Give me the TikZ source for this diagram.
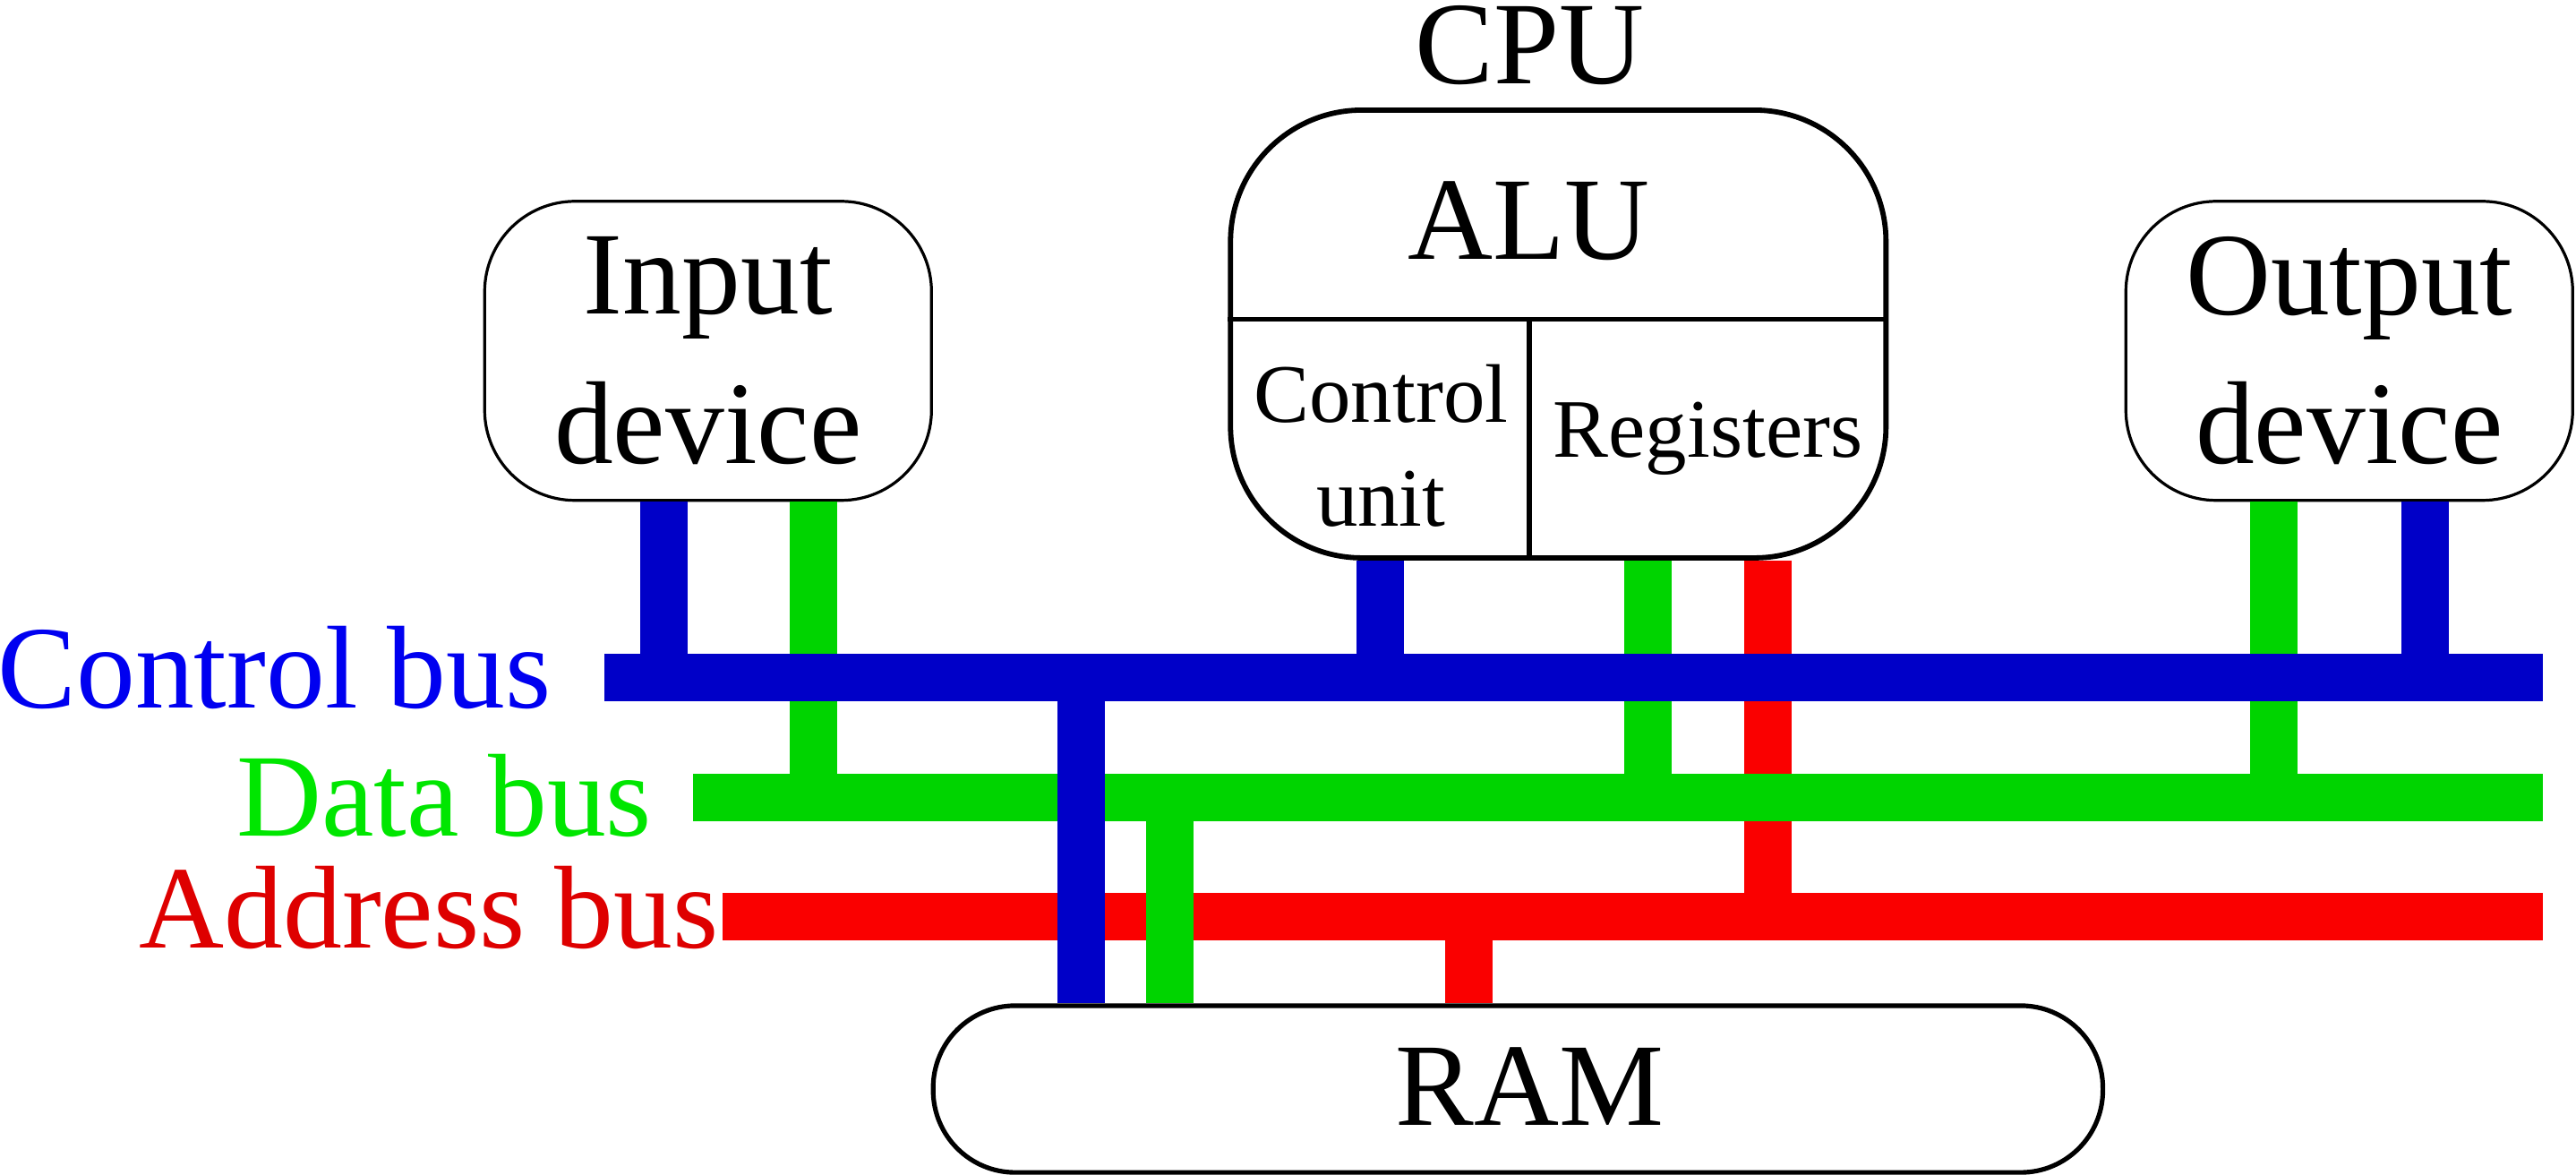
\documentclass[tikz,border=0pt]{standalone}
\usepackage{fontspec}
\setmainfont{Liberation Serif}
\usepackage{tikz}
\definecolor{ctrlblue}{RGB}{0,0,200}
\definecolor{ctrltxt}{RGB}{0,0,240}
\definecolor{datagreen}{RGB}{0,212,0}
\definecolor{datatxt}{RGB}{0,230,0}
\definecolor{addrred}{RGB}{250,0,0}
\definecolor{addrtxt}{RGB}{222,0,0}
\newcommand{\bigtext}{\fontsize{20.4pt}{25.8pt}\selectfont}
\newcommand{\smalltext}{\fontsize{14.4pt}{18pt}\selectfont}

\begin{document}
\begin{tikzpicture}[x=0.1mm, y=-0.1mm,
	box/.style={draw, line width=0.5pt, rounded corners=5.5mm, minimum width=27.2mm, minimum height=18.2mm, inner sep=0pt, align=center, font=\bigtext},
	lbl/.style={inner sep=0pt, font=\bigtext},
	bar/.style={line width=2.88mm},
	cbar/.style={bar, ctrlblue},
	dbar/.style={bar, datagreen},
	abar/.style={bar, addrred}]
	\useasboundingbox (0,0) rectangle (1568,715);
	%%% Boxes
	\node[box] (in) at (431,213.5) {Input\\device};
	\node[box] (out) at (1430,213.5) {Output\\device};
	\node[draw, line width=0.9pt, rounded corners=8mm, minimum width=39.9mm, minimum height=27.25mm] (cpu) at (948.5,203.25) {};
	\node[draw, line width=0.8pt, rounded corners=5mm, minimum width=71.2mm, minimum height=10.15mm] (ram) at (924,662.75) {};
	%%% CPU inside
	\coordinate (div) at (931,194.3);
	\draw[line width=0.9pt] (cpu.west |- div) -- (cpu.east |- div);
	\draw[line width=0.9pt] (div) -- (div |- cpu.south);
	\node[lbl, anchor=base] (cpulbl) at (931,51) {CPU};
	\node[lbl, anchor=base] (alu) at (930.5,157.8) {ALU};
	\node[inner sep=0pt, font=\smalltext, align=center] (cu) at (840.6,271.2) {Control\\unit};
	\node[inner sep=0pt, font=\smalltext, anchor=base] (reg) at (1039.6,278.2) {Registers};
	\node[lbl, anchor=base] (ramtxt) at (931,685) {RAM};
	%%% Buses
	\coordinate (cbusL) at (368,412.3);
	\coordinate (cbusR) at (1548,412.3);
	\coordinate (dbusL) at (422,485.3);
	\coordinate (dbusR) at (1548,485.3);
	\coordinate (abusL) at (440,557.7);
	\coordinate (abusR) at (1548,557.7);
	\node[lbl, anchor=base east, text=ctrltxt] (lctrl) at (336,431) {Control bus};
	\node[lbl, anchor=base east, text=datatxt] (ldata) at (397.5,509) {Data bus};
	\node[lbl, anchor=base east, text=addrtxt] (laddr) at (438,577) {Address bus};
	%%% Data and address lines
	\foreach \n/\dx in {in/64, cpu/54.5, out/-46}
		\draw[dbar] (\n.south) ++(\dx,0) coordinate (s) -- (s |- dbusL);
	\draw[abar] (cpu.south) ++(127.5,0) coordinate (s) -- (s |- abusL);
	\draw[dbar] (dbusL) -- (dbusR);
	\draw[abar] (abusL) -- (abusR);
	\draw[dbar] (ram.north) ++(-212,0) coordinate (s) -- (s |- dbusL);
	\draw[abar] (ram.north) ++(-30,0) coordinate (s) -- (s |- abusL);
	%%% Control lines
	\draw[cbar] (cbusL) -- (cbusR);
	\foreach \n/\dx in {in/-27, cpu/-108.5, out/46}
		\draw[cbar] (\n.south) ++(\dx,0) coordinate (s) -- (s |- cbusL);
	\draw[cbar] (ram.north) ++(-266,0) coordinate (s) -- (s |- cbusL);
\end{tikzpicture}
\end{document}
